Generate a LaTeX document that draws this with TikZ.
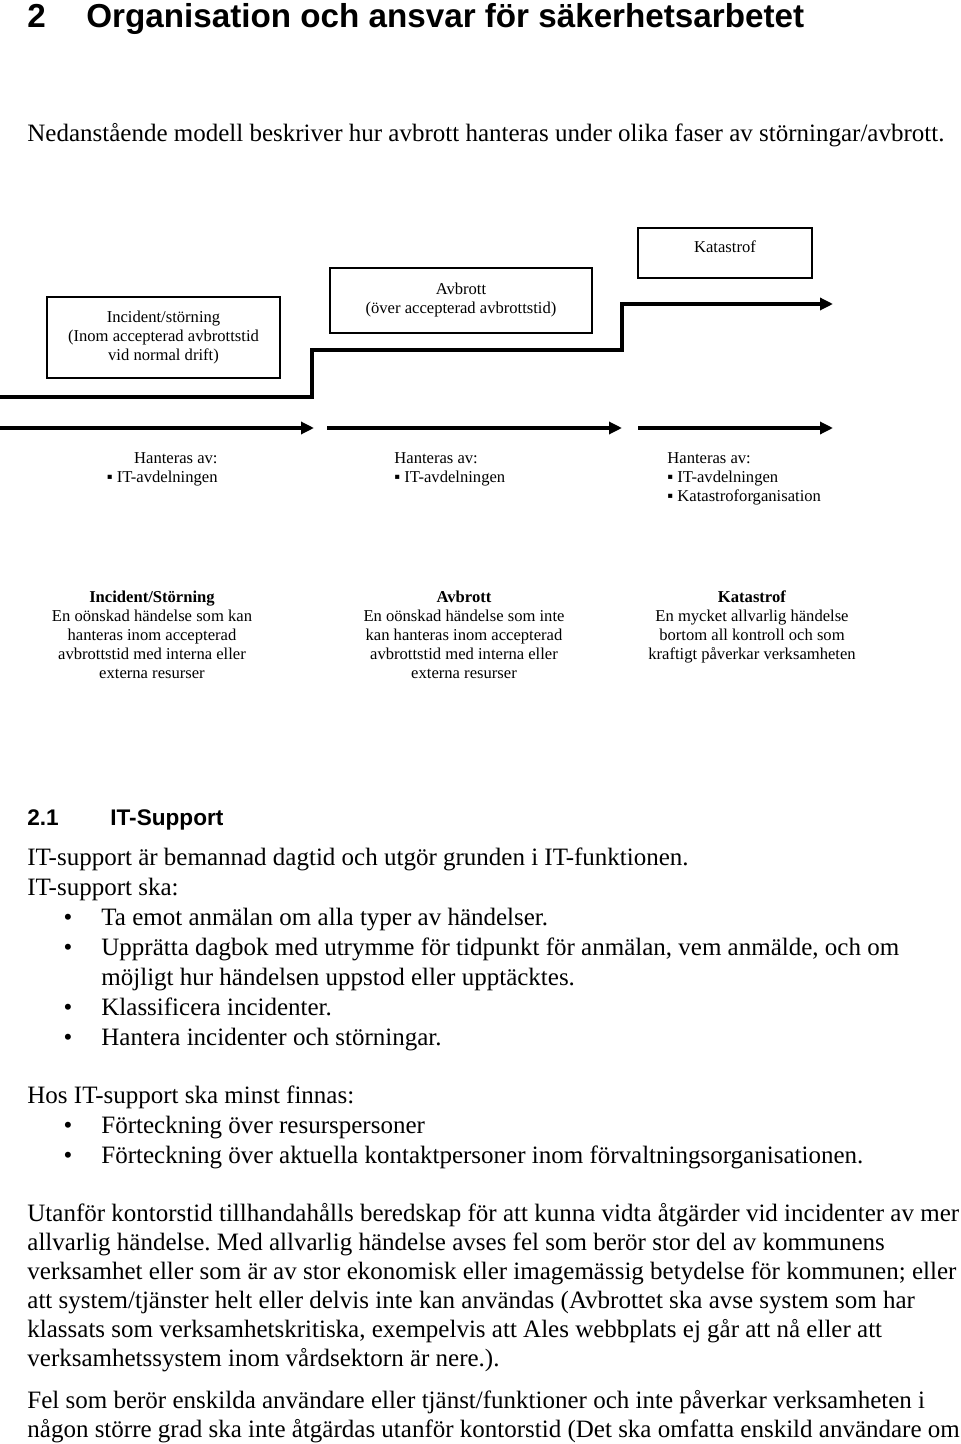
\documentclass[tikz,border=0pt]{standalone}
\usepackage{fontspec}
\setmainfont{Liberation Serif}
\setsansfont{Liberation Sans}
\usepackage{tikz}
\usetikzlibrary{arrows.meta}
\frenchspacing

\newcommand{\diagfont}{\fontsize{8.3pt}{9.5pt}\selectfont}
\newcommand{\bodyfont}{\fontsize{12.5pt}{14.5pt}\selectfont}

\begin{document}
\begin{tikzpicture}[
    x=0.5pt, y=-0.5pt,
    box/.style = {rectangle, draw, line width=0.8pt, inner sep=0pt,
                  align=center, font=\diagfont},
    note/.style = {inner sep=0pt, font=\diagfont},
    txt/.style = {anchor=base west, inner sep=0pt, font=\bodyfont},
    dot/.style = {anchor=base, inner sep=0pt, font=\bodyfont},
    flow/.style = {line width=1.6pt, -{Triangle[length=6.5pt, width=6pt]}}
]
\useasboundingbox (0,0) rectangle (960,1444);

% Heading
\node[anchor=base west, inner sep=0pt, font=\sffamily\bfseries\fontsize{16.6pt}{20pt}\selectfont] (hnum) at (27,28) {2};
\node[anchor=base west, inner sep=0pt, font=\sffamily\bfseries\fontsize{16.6pt}{20pt}\selectfont] (htxt) at (86,28) {Organisation och ansvar för säkerhetsarbetet};
\node[txt] (intro) at (27,141.5) {Nedanstående modell beskriver hur avbrott hanteras under olika faser av störningar/avbrott.};

% Phases
\node[box, minimum width=116.5pt, minimum height=40.5pt] (inc) at (163.5,337.5) {Incident/störning\\(Inom accepterad avbrottstid\\vid normal drift)};
\node[box, minimum width=131pt, minimum height=32.5pt] (avb) at (461,300.5) {Avbrott\\(över accepterad avbrottstid)};
\node[box, minimum width=87pt, minimum height=25pt, text height=5pt, text depth=5pt] (kat) at (725,253) {Katastrof};

% Step line
\coordinate (st0) at (0,397);
\coordinate (st1) at (312,350);
\coordinate (st2) at (622,304);
\coordinate (st3) at (833,304);
\draw[flow] (st0) -| (st1) -| (st2) -- (st3);

% Arrows
\coordinate (ar0) at (0,428);
\coordinate (ar1) at (314,428);
\coordinate (ar2) at (327,428);
\coordinate (ar3) at (622,428);
\coordinate (ar4) at (638,428);
\coordinate (ar5) at (833,428);
\draw[flow] (ar0) -- (ar1);
\draw[flow] (ar2) -- (ar3);
\draw[flow] (ar4) -- (ar5);

% Handled by
\node[note, anchor=north east, align=right] (hant1) at (218,452) {Hanteras av:\\▪ IT-avdelningen};
\node[note, anchor=north west, align=left] (hant2) at (394,452) {Hanteras av:\\▪ IT-avdelningen};
\node[note, anchor=north west, align=left] (hant3) at (667,452) {Hanteras av:\\▪ IT-avdelningen\\▪ Katastroforganisation};

% Definitions
\node[note, anchor=north, align=center] (def1) at (152,591) {\textbf{Incident/Störning}\\En oönskad händelse som kan\\hanteras inom accepterad\\avbrottstid med interna eller\\externa resurser};
\node[note, anchor=north, align=center] (def2) at (464,590.5) {\textbf{Avbrott}\\En oönskad händelse som inte\\kan hanteras inom accepterad\\avbrottstid med interna eller\\externa resurser};
\node[note, anchor=north, align=center] (def3) at (752,590.5) {\textbf{Katastrof}\\En mycket allvarlig händelse\\bortom all kontroll och som\\kraftigt påverkar verksamheten};

% Section 2.1
\node[anchor=base west, inner sep=0pt, font=\sffamily\bfseries\fontsize{11.3pt}{14pt}\selectfont] (snum) at (27,825) {2.1};
\node[anchor=base west, inner sep=0pt, font=\sffamily\bfseries\fontsize{11.3pt}{14pt}\selectfont] (stxt) at (110,825) {IT-Support};
\node[txt] (p1) at (27,865.5) {IT-support är bemannad dagtid och utgör grunden i IT-funktionen.};
\node[txt] (p2) at (27,895.5) {IT-support ska:};
\node[dot] (d1) at (68,925.5) {•};
\node[txt] (b1) at (101,925.5) {Ta emot anmälan om alla typer av händelser.};
\node[dot] (d2) at (68,955.5) {•};
\node[txt] (b2) at (101,955.5) {Upprätta dagbok med utrymme för tidpunkt för anmälan, vem anmälde, och om};
\node[txt] (b2b) at (101,985.5) {möjligt hur händelsen uppstod eller upptäcktes.};
\node[dot] (d3) at (68,1015.5) {•};
\node[txt] (b3) at (101,1015.5) {Klassificera incidenter.};
\node[dot] (d4) at (68,1045.5) {•};
\node[txt] (b4) at (101,1045.5) {Hantera incidenter och störningar.};

\node[txt] (p3) at (27,1103.5) {Hos IT-support ska minst finnas:};
\node[dot] (d5) at (68,1133.5) {•};
\node[txt] (b5) at (101,1133.5) {Förteckning över resurspersoner};
\node[dot] (d6) at (68,1163.5) {•};
\node[txt] (b6) at (101,1163.5) {Förteckning över aktuella kontaktpersoner inom förvaltningsorganisationen.};

\node[txt] (q1) at (27,1221.5) {Utanför kontorstid tillhandahålls beredskap för att kunna vidta åtgärder vid incidenter av mer};
\node[txt] (q2) at (27,1250.5) {allvarlig händelse. Med allvarlig händelse avses fel som berör stor del av kommunens};
\node[txt] (q3) at (27,1279.5) {verksamhet eller som är av stor ekonomisk eller imagemässig betydelse för kommunen; eller};
\node[txt] (q4) at (27,1308.5) {att system/tjänster helt eller delvis inte kan användas (Avbrottet ska avse system som har};
\node[txt] (q5) at (27,1337.5) {klassats som verksamhetskritiska, exempelvis att Ales webbplats ej går att nå eller att};
\node[txt] (q6) at (27,1366.5) {verksamhetssystem inom vårdsektorn är nere.).};

\node[txt] (r1) at (27,1408.5) {Fel som berör enskilda användare eller tjänst/funktioner och inte påverkar verksamheten i};
\node[txt] (r2) at (27,1437.5) {någon större grad ska inte åtgärdas utanför kontorstid (Det ska omfatta enskild användare om};

\end{tikzpicture}
\end{document}
